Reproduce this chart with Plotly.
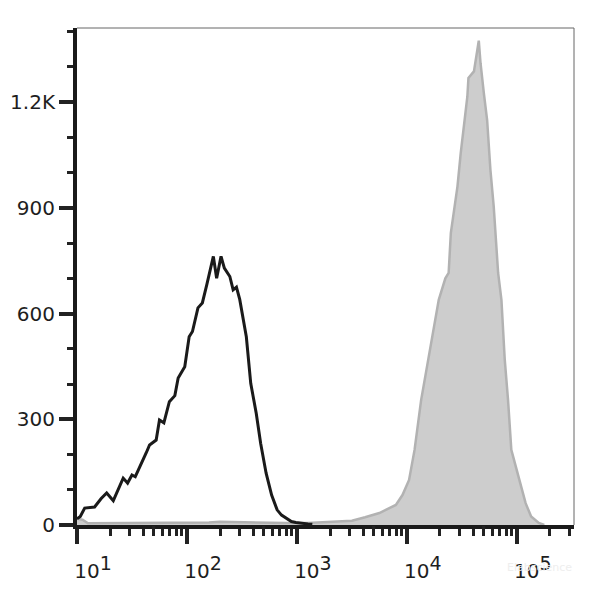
import plotly.graph_objects as go

# ---- data (x as log10 of channel value, y = count) ----
black_log_x = [1.00, 1.03, 1.07, 1.16, 1.22, 1.27, 1.33, 1.38, 1.42, 1.46, 1.50, 1.53,
               1.59, 1.63, 1.66, 1.72, 1.75, 1.79, 1.84, 1.89, 1.92, 1.98, 2.02, 2.05,
               2.10, 2.14, 2.18, 2.21, 2.24, 2.27, 2.31, 2.34, 2.39, 2.42, 2.45, 2.48,
               2.51, 2.54, 2.58, 2.63, 2.67, 2.72, 2.77, 2.82, 2.86, 2.90, 2.95, 2.99,
               3.05, 3.10, 3.14]
black_y = [18, 24, 48, 51, 75, 91, 69, 105, 133, 119, 142, 137,
           176, 205, 227, 241, 298, 290, 350, 367, 417, 449, 534, 549,
           616, 630, 681, 720, 762, 700, 762, 729, 705, 667, 675, 640,
           591, 534, 402, 317, 232, 147, 85, 43, 28, 19, 10, 7,
           4, 3, 2]

gray_log_x = [1.00, 1.05, 1.10, 1.40, 1.80, 2.20, 2.30, 2.60, 2.90, 3.10, 3.30,
              3.50, 3.62, 3.75, 3.90, 3.96, 4.02, 4.07, 4.13, 4.20, 4.29, 4.35,
              4.38, 4.40, 4.46, 4.49, 4.52, 4.55, 4.56, 4.61, 4.654, 4.67, 4.70,
              4.73, 4.76, 4.79, 4.83, 4.86, 4.89, 4.92, 4.95, 5.02, 5.08, 5.13,
              5.20, 5.25]
gray_y = [18, 15, 5, 5, 6, 7, 9, 7, 6, 6, 8,
          12, 22, 34, 57, 85, 128, 213, 355, 480, 639, 700,
          715, 829, 960, 1056, 1140, 1215, 1268, 1287, 1374, 1310, 1225,
          1149, 1007, 903, 715, 639, 470, 355, 213, 128, 62, 24,
          6, 0]

x_major_vals = [10, 100, 1000, 10000, 100000]
x_major_exp = ["1", "2", "3", "4", "5"]
x_minor_vals = [m * d for d in [10, 100, 1000, 10000, 100000] for m in range(2, 10)]
x_mid_vals = [50, 500, 5000, 50000]

y_tick_vals = [0, 300, 600, 900, 1200]
y_tick_text = ["0", "300", "600", "900", "1.2K"]

x_range_log = [1.0, 5.52]
y_range = [0, 1410]

# ---- figure ----
black_x = [10 ** v for v in black_log_x]
gray_x = [10 ** v for v in gray_log_x]
x_major_text = ["10<sup><span style='font-size:19px'>%s</span></sup>" % e for e in x_major_exp]

fig = go.Figure()
fig.add_trace(go.Scatter(
    x=gray_x, y=gray_y, mode="lines", fill="tozeroy",
    fillcolor="#cdcdcd", line=dict(color="#b2b2b2", width=2.5),
    hoverinfo="skip", showlegend=False))
fig.add_trace(go.Scatter(
    x=black_x, y=black_y, mode="lines",
    line=dict(color="#1a1a1a", width=3),
    hoverinfo="skip", showlegend=False))
# invisible trace on the overlay axis so it is drawn
fig.add_trace(go.Scatter(x=[10], y=[0], xaxis="x2", mode="markers",
                         marker=dict(opacity=0), hoverinfo="skip", showlegend=False))

tick_font = dict(family="DejaVu Sans, Verdana, sans-serif", size=20, color="#1e1e1e")

fig.update_layout(
    width=600, height=589,
    margin=dict(l=69, r=34, t=20, b=72, autoexpand=False),
    paper_bgcolor="white", plot_bgcolor="white",
    xaxis=dict(
        type="log", range=x_range_log,
        tickmode="array", tickvals=x_major_vals, ticktext=x_major_text,
        ticks="outside", ticklen=15, tickwidth=4, tickcolor="#222222",
        ticklabelshift=16, ticklabelstandoff=10,
        minor=dict(tickmode="array", tickvals=x_minor_vals, ticks="outside",
                   ticklen=7, tickwidth=2.5, tickcolor="#222222", showgrid=False),
        showline=True, linecolor="#1a1a1a", linewidth=4,
        showgrid=False, zeroline=False, tickfont=tick_font,
    ),
    xaxis2=dict(
        type="log", range=x_range_log, overlaying="x", anchor="y", side="bottom",
        tickmode="array", tickvals=x_mid_vals, ticks="outside", ticklen=10,
        tickwidth=2.5, tickcolor="#222222", showticklabels=False,
        showline=False, showgrid=False, zeroline=False,
    ),
    yaxis=dict(
        range=y_range,
        tickmode="array", tickvals=y_tick_vals, ticktext=y_tick_text,
        ticks="outside", ticklen=14, tickwidth=4, tickcolor="#222222",
        minor=dict(dtick=100, tick0=0, ticks="outside", ticklen=6, tickwidth=2.5,
                   tickcolor="#222222", showgrid=False),
        showline=True, linecolor="#1a1a1a", linewidth=4,
        showgrid=False, zeroline=False, tickfont=tick_font,
    ),
    shapes=[
        dict(type="line", xref="paper", yref="paper", x0=0, x1=1, y0=1, y1=1,
             line=dict(color="#666666", width=1)),
        dict(type="line", xref="paper", yref="paper", x0=1, x1=1, y0=0, y1=1,
             line=dict(color="#666666", width=1)),
    ],
    annotations=[
        dict(text="Elabscience", xref="paper", yref="paper", x=1.0, y=-0.085,
             xanchor="right", yanchor="middle", showarrow=False,
             font=dict(family="DejaVu Sans", size=11, color="#eeeeee")),
    ],
)

fig.write_html("out.html")
